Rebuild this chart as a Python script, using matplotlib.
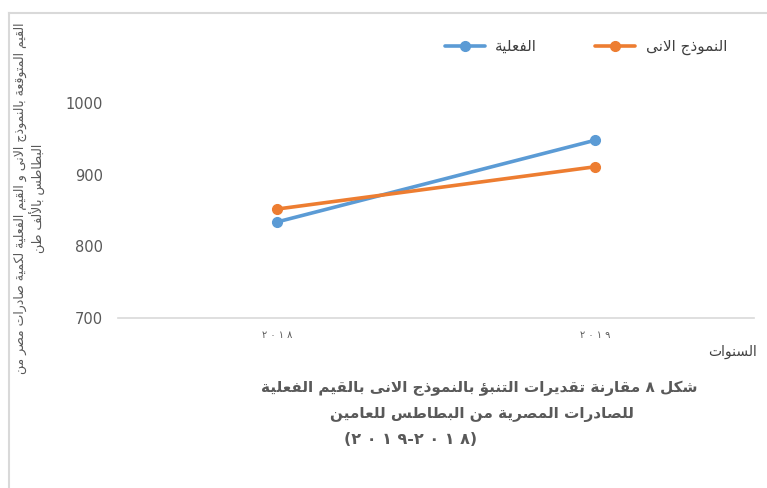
import matplotlib
matplotlib.use("Agg")
import matplotlib.pyplot as plt
from matplotlib.lines import Line2D

# exports of Egyptian potatoes, thousand tonnes
years = ["٢٠١٨", "٢٠١٩"]
actual = [834, 948]
model = [852, 911]
y_ticks = [700, 800, 900, 1000]

actual_label = "الفعلية"
model_label = "النموذج الانى"
x_title = "السنوات"
y_title_lines = [
    "القيم المتوقعة بالنموذج الانى و القيم الفعلية لكمية صادرات مصر من",
    "البطاطس بالألف طن",
]
caption_lines = [
    "شكل ٨ مقارنة تقديرات التنبؤ بالنموذج الانى بالقيم الفعلية",
    "للصادرات المصرية من البطاطس للعامين",
]
caption_years = "(٢٠١٩-٢٠١٨)"

BLUE = "#5B9BD5"
ORANGE = "#ED7D31"
TEXT = "#595959"
DARK = "#404040"
GRID = "#D9D9D9"

# matplotlib lays text out left to right without Arabic shaping, so letters
# are mapped to presentation forms (isolated, final, initial, medial) here.
FORMS = {
    "ء": (0xFE80, 1), "آ": (0xFE81, 2), "أ": (0xFE83, 2), "ؤ": (0xFE85, 2),
    "إ": (0xFE87, 2), "ئ": (0xFE89, 4), "ا": (0xFE8D, 2), "ب": (0xFE8F, 4),
    "ة": (0xFE93, 2), "ت": (0xFE95, 4), "ث": (0xFE99, 4), "ج": (0xFE9D, 4),
    "ح": (0xFEA1, 4), "خ": (0xFEA5, 4), "د": (0xFEA9, 2), "ذ": (0xFEAB, 2),
    "ر": (0xFEAD, 2), "ز": (0xFEAF, 2), "س": (0xFEB1, 4), "ش": (0xFEB5, 4),
    "ص": (0xFEB9, 4), "ض": (0xFEBD, 4), "ط": (0xFEC1, 4), "ظ": (0xFEC5, 4),
    "ع": (0xFEC9, 4), "غ": (0xFECD, 4), "ف": (0xFED1, 4), "ق": (0xFED5, 4),
    "ك": (0xFED9, 4), "ل": (0xFEDD, 4), "م": (0xFEE1, 4), "ن": (0xFEE5, 4),
    "ه": (0xFEE9, 4), "و": (0xFEED, 2), "ى": (0xFEEF, 2), "ي": (0xFEF1, 4),
}
LAM_ALEF = {"ا": 0xFEFB, "أ": 0xFEF7, "إ": 0xFEF9, "آ": 0xFEF5}
DIGITS = "٠١٢٣٤٥٦٧٨٩"


def shape_word(word):
    if not any(c in FORMS for c in word):
        return word
    tokens = []
    i = 0
    while i < len(word):
        c = word[i]
        if c == "ل" and i + 1 < len(word) and word[i + 1] in LAM_ALEF:
            tokens.append(("la", word[i + 1]))
            i += 2
        else:
            tokens.append(("ch", c))
            i += 1
    out = []
    for k, (kind, c) in enumerate(tokens):
        prev = tokens[k - 1] if k > 0 else None
        nxt = tokens[k + 1] if k + 1 < len(tokens) else None
        joins_prev = prev is not None and prev[0] == "ch" and FORMS.get(prev[1], (0, 0))[1] == 4
        if kind == "la":
            out.append(chr(LAM_ALEF[c] + (1 if joins_prev else 0)))
            continue
        if c not in FORMS:
            out.append(c)
            continue
        base, n = FORMS[c]
        joins_next = n == 4 and nxt is not None and (
            nxt[0] == "la" or FORMS.get(nxt[1], (0, 0))[1] > 1
        )
        if n == 1:
            idx = 0
        elif n == 2:
            idx = 1 if joins_prev else 0
        else:
            idx = {(False, False): 0, (True, False): 1, (False, True): 2, (True, True): 3}[
                (joins_prev, joins_next)
            ]
        out.append(chr(base + idx))
    return "".join(reversed(out))


def rtl(text):
    """Visual order of a right-to-left line, ready for left-to-right drawing."""
    return " ".join(shape_word(w) for w in reversed(text.split(" ")))


def spaced_digits(text, sep=" "):
    out = ""
    for i, c in enumerate(text):
        out += c
        if c in DIGITS and i + 1 < len(text) and text[i + 1] in DIGITS:
            out += sep
    return out


plt.rcParams["font.family"] = ["DejaVu Sans"]

fig = plt.figure(figsize=(7.67, 4.88), dpi=100)
ax = fig.add_axes([118 / 767, 1 - 318 / 488, 636 / 767, 215 / 488])

x = list(range(len(years)))
ax.plot(x, actual, color=BLUE, lw=2.6, marker="o", ms=7, label=rtl(actual_label),
        solid_capstyle="round")
ax.plot(x, model, color=ORANGE, lw=2.6, marker="o", ms=7, label=rtl(model_label),
        solid_capstyle="round")

ax.set_xlim(-0.5, len(years) - 0.5)
ax.set_ylim(y_ticks[0], y_ticks[-1])
ax.set_yticks(y_ticks)
ax.set_xticks(x)
ax.set_xticklabels([spaced_digits(y) for y in years], fontsize=7, color=TEXT)
ax.tick_params(axis="y", length=0, pad=11, labelsize=10.5, labelcolor=TEXT)
ax.tick_params(axis="x", length=0, pad=9)
for side in ("top", "right", "left"):
    ax.spines[side].set_visible(False)
ax.spines["bottom"].set_color(GRID)
ax.spines["bottom"].set_linewidth(1.2)

handles, labels = ax.get_legend_handles_labels()
fig.legend(handles, labels, loc="center", bbox_to_anchor=(586 / 767, 1 - 47 / 488), ncol=2,
           frameon=False, fontsize=11, labelcolor=DARK, handlelength=2.6,
           columnspacing=3.8, handletextpad=0.7)

fig.text(757 / 767, 1 - 352 / 488, rtl(x_title), ha="right", va="center",
         fontsize=10, color=DARK)

fig.text(30 / 767, 1 - 198 / 488, "\n".join(rtl(s) for s in y_title_lines), rotation=90,
         ha="center", va="center", multialignment="center", fontsize=9, color=TEXT,
         linespacing=1.25)

caption_pos = [(479, 388), (482, 414)]
for line, (cx, cy) in zip(caption_lines, caption_pos):
    fig.text(cx / 767, 1 - cy / 488, rtl(line), ha="center", va="center",
             fontsize=11, fontweight="bold", color=TEXT)
fig.text(411 / 767, 1 - 440 / 488, spaced_digits(caption_years, " "), ha="center",
         va="center", fontsize=11.5, fontweight="bold", color=TEXT)

# chart frame edges
fig.add_artist(Line2D([9 / 767, 9 / 767], [0, 1 - 13 / 488], color=GRID, lw=1.5))
fig.add_artist(Line2D([9 / 767, 1], [1 - 13 / 488, 1 - 13 / 488], color=GRID, lw=1.5))

fig.savefig("out.png", dpi=100)
